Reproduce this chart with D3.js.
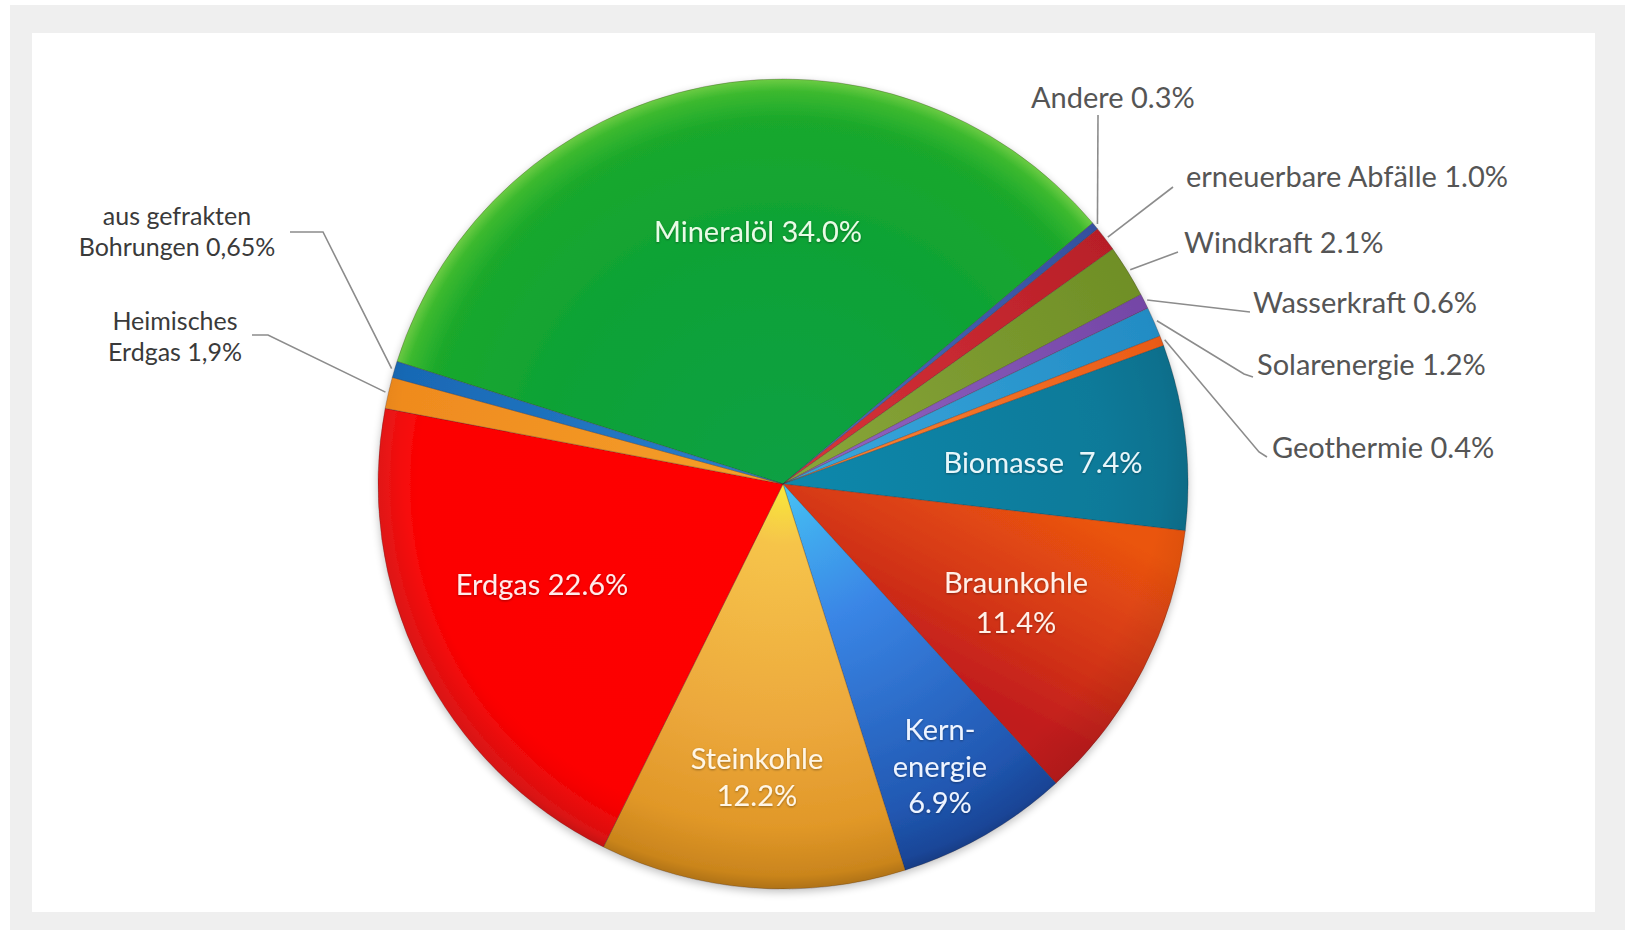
<!DOCTYPE html>
<html>
<head>
<meta charset="utf-8">
<script src="https://cdn.jsdelivr.net/npm/d3@7"></script>
<style>
  html, body { margin: 0; padding: 0; background: #ffffff; }
  svg { display: block; }
  text { font-family: Lato, "Open Sans", "DejaVu Sans", sans-serif; white-space: pre; }
</style>
</head>
<body>
<svg id="chart" width="1629" height="930"></svg>
<script>
// Primärenergieverbrauch nach Energieträgern (Anteile in %)
const categories = ["Mineralöl", "Andere", "erneuerbare Abfälle", "Windkraft", "Wasserkraft",
                    "Solarenergie", "Geothermie", "Biomasse", "Braunkohle", "Kernenergie",
                    "Steinkohle", "Erdgas"];
const shares = [34.0, 0.3, 1.0, 2.1, 0.6, 1.2, 0.4, 7.4, 11.4, 6.9, 12.2, 22.6];

// Anteil heimischer Förderung am Erdgas, davon aus gefrackten Bohrungen
const domesticGasShare = 1.9;
const frackedGasShare = 0.65;

// Slice colours (inner -> outer)
const sliceStyle = {
  "Mineralöl":           { stops: [[0, "#07a044"], [0.6, "#0ea236"], [0.9, "#1aa82c"], [0.97, "#3cb92e"], [1, "#6ccc44"]] },
  "Andere":              { stops: [[0, "#4f6cc0"], [1, "#34509e"]] },
  "erneuerbare Abfälle": { stops: [[0, "#d8343a"], [1, "#b81f28"]] },
  "Windkraft":           { stops: [[0, "#8aa63a"], [1, "#6f8f26"]] },
  "Wasserkraft":         { stops: [[0, "#9366c4"], [1, "#7446a6"]] },
  "Solarenergie":        { stops: [[0, "#3aa8de"], [1, "#238cc4"]] },
  "Geothermie":          { stops: [[0, "#f88a3a"], [1, "#ea5a16"]] },
  "Biomasse":            { stops: [[0, "#1088ac"], [0.8, "#0a7a99"], [1, "#096f8c"]] },
  "Braunkohle":          { linear: true, stops: [[0, "#ea5410"], [0.45, "#d83c14"], [1, "#c01a1e"]] },
  "Kernenergie":         { stops: [[0, "#46c2f4"], [0.35, "#3a86e6"], [1, "#1a4aa2"]] },
  "Steinkohle":          { stops: [[0, "#f8ea3a"], [0.15, "#f6c44a"], [0.6, "#eca83c"], [1, "#da8e1c"]] },
  "Erdgas":              { stops: [[0, "#ff0000"], [0.9, "#fc0202"], [1, "#ea1818"]] },
  "Erdgas heimisch":     { stops: [[0, "#f5a02a"], [1, "#ef8a1e"]] },
  "Erdgas gefrackt":     { stops: [[0, "#2a80cc"], [1, "#1868b4"]] }
};

const W = 1629, H = 930;
const cx = 783, cy = 484, R = 405;
const startAngle = -72.4 * Math.PI / 180;

// Build slice list: Erdgas is split into imported part, conventional domestic part and fracked part
const slices = [];
categories.forEach((c, i) => {
  if (c === "Erdgas") {
    slices.push({ key: "Erdgas", value: shares[i] - domesticGasShare });
    slices.push({ key: "Erdgas heimisch", value: domesticGasShare - frackedGasShare });
    slices.push({ key: "Erdgas gefrackt", value: frackedGasShare });
  } else {
    slices.push({ key: c, value: shares[i] });
  }
});

const svg = d3.select("#chart");
const defs = svg.append("defs");

// page frame
svg.append("rect").attr("x", 10).attr("y", 5).attr("width", W - 14).attr("height", H - 5).attr("fill", "#efefef");
svg.append("rect").attr("x", 32).attr("y", 33).attr("width", 1563).attr("height", 879).attr("fill", "#ffffff");

const pie = d3.pie().sort(null).value(d => d.value)
  .startAngle(startAngle).endAngle(startAngle + 2 * Math.PI);
const arcs = pie(slices);
const arc = d3.arc().innerRadius(0).outerRadius(R);

const polar = (a, r) => [Math.sin(a) * r, -Math.cos(a) * r];

// gradients
arcs.forEach((a, i) => {
  const st = sliceStyle[a.data.key];
  let g;
  if (st.linear) {
    const p0 = polar(a.startAngle, R * 0.75), p1 = polar(a.endAngle, R * 0.75);
    g = defs.append("linearGradient").attr("id", "g" + i)
      .attr("gradientUnits", "userSpaceOnUse")
      .attr("x1", p0[0]).attr("y1", p0[1]).attr("x2", p1[0]).attr("y2", p1[1]);
  } else {
    g = defs.append("radialGradient").attr("id", "g" + i)
      .attr("gradientUnits", "userSpaceOnUse")
      .attr("cx", 0).attr("cy", 0).attr("r", R);
  }
  st.stops.forEach(s => g.append("stop").attr("offset", s[0]).attr("stop-color", s[1]));
});

// rim shading, a little stronger towards the bottom
const rim = defs.append("radialGradient").attr("id", "rim")
  .attr("gradientUnits", "userSpaceOnUse").attr("cx", 0).attr("cy", -40).attr("r", R + 40);
rim.append("stop").attr("offset", 0.86).attr("stop-color", "#000").attr("stop-opacity", 0);
rim.append("stop").attr("offset", 0.97).attr("stop-color", "#000").attr("stop-opacity", 0.08);
rim.append("stop").attr("offset", 1).attr("stop-color", "#000").attr("stop-opacity", 0.2);

const shadow = defs.append("filter").attr("id", "shadow").attr("x", "-10%").attr("y", "-10%").attr("width", "120%").attr("height", "125%");
shadow.append("feGaussianBlur").attr("in", "SourceAlpha").attr("stdDeviation", 4);
shadow.append("feOffset").attr("dy", 3).attr("result", "b");
shadow.append("feComponentTransfer").append("feFuncA").attr("type", "linear").attr("slope", 0.25);
const merge = shadow.append("feMerge");
merge.append("feMergeNode");
merge.append("feMergeNode").attr("in", "SourceGraphic");

const textShadow = defs.append("filter").attr("id", "tshadow").attr("x", "-5%").attr("y", "-20%").attr("width", "110%").attr("height", "140%");
textShadow.append("feDropShadow").attr("dx", 0).attr("dy", 1).attr("stdDeviation", 1)
  .attr("flood-color", "#000").attr("flood-opacity", 0.35);

const gPie = svg.append("g").attr("transform", `translate(${cx},${cy})`);
const gSlices = gPie.append("g").attr("filter", "url(#shadow)");
gSlices.selectAll("path.slice").data(arcs).join("path")
  .attr("class", "slice")
  .attr("d", arc)
  .attr("fill", (d, i) => `url(#g${i})`)
  .attr("stroke", "rgba(60,40,40,0.35)")
  .attr("stroke-width", 0.8);

gPie.append("circle").attr("r", R).attr("fill", "url(#rim)").attr("pointer-events", "none");

// label texts
const fmt1 = v => v.toFixed(1) + "%";
const fmtDe = v => String(v).replace(".", ",") + "%";
const byKey = {};
arcs.forEach(a => byKey[a.data.key] = a);
const shareOf = k => shares[categories.indexOf(k)];

// inside labels (positions relative to pie centre)
const insideLayout = [
  { key: "Mineralöl",   lines: ["Mineralöl " + fmt1(shareOf("Mineralöl"))], x: -25, y: -242, fill: "#eafbe6" },
  { key: "Biomasse",    lines: ["Biomasse  " + fmt1(shareOf("Biomasse"))], x: 260, y: -11, fill: "#e8f6fa" },
  { key: "Erdgas",      lines: ["Erdgas " + fmt1(shareOf("Erdgas"))], x: -241, y: 111, fill: "#ffecec" },
  { key: "Braunkohle",  lines: ["Braunkohle", fmt1(shareOf("Braunkohle"))], x: 233, y: 109, fill: "#fff0e8" },
  { key: "Steinkohle",  lines: ["Steinkohle", fmt1(shareOf("Steinkohle"))], x: -26, y: 285, fill: "#fff6e6" },
  { key: "Kernenergie", lines: ["Kern-", "energie", fmt1(shareOf("Kernenergie"))], x: 157, y: 256, fill: "#eef4ff" }
];
const lineGap = { "Braunkohle": 40, "Steinkohle": 37, "Kernenergie": 36.5 };

insideLayout.forEach(l => {
  const t = gPie.append("text")
    .attr("x", l.x).attr("y", l.y)
    .attr("text-anchor", "middle")
    .attr("font-size", 29)
    .attr("fill", l.fill)
    .attr("filter", "url(#tshadow)");
  l.lines.forEach((s, j) => t.append("tspan").attr("x", l.x).attr("dy", j === 0 ? 0 : (lineGap[l.key] || 36)).text(s));
});

// outside labels with leader lines
const outsideLayout = [
  { key: "Andere",              text: "Andere " + fmt1(shareOf("Andere")),                            tx: 1031, ty: 108, anchor: "start", size: 29, via: [[1098, 115]] },
  { key: "erneuerbare Abfälle", text: "erneuerbare Abfälle " + fmt1(shareOf("erneuerbare Abfälle")), tx: 1186, ty: 187, anchor: "start", size: 29, via: [[1173, 187]] },
  { key: "Windkraft",           text: "Windkraft " + fmt1(shareOf("Windkraft")),                      tx: 1184, ty: 253, anchor: "start", size: 29, via: [[1178, 252]] },
  { key: "Wasserkraft",         text: "Wasserkraft " + fmt1(shareOf("Wasserkraft")),                  tx: 1253, ty: 313, anchor: "start", size: 29, via: [[1250, 312]] },
  { key: "Solarenergie",        text: "Solarenergie " + fmt1(shareOf("Solarenergie")),                tx: 1257, ty: 375, anchor: "start", size: 29, via: [[1244, 374], [1253, 377]] },
  { key: "Geothermie",          text: "Geothermie " + fmt1(shareOf("Geothermie")),                    tx: 1272, ty: 458, anchor: "start", size: 29, via: [[1259, 452], [1267, 457]] },
  { key: "Erdgas gefrackt",     lines: ["aus gefrakten", "Bohrungen " + fmtDe(frackedGasShare)],     tx: 177, ty: 225, anchor: "middle", size: 25, gap: 31, via: [[323, 232], [290, 232]], color: "#3a3a3a" },
  { key: "Erdgas heimisch",     lines: ["Heimisches", "Erdgas " + fmtDe(domesticGasShare)],          tx: 175, ty: 330, anchor: "middle", size: 25, gap: 31, via: [[268, 335], [252, 335]], color: "#3a3a3a" }
];

const gOut = svg.append("g");
outsideLayout.forEach(l => {
  const a = byKey[l.key];
  const mid = (a.startAngle + a.endAngle) / 2;
  const p = polar(mid, R + 3);
  const pts = [[cx + p[0], cy + p[1]]].concat(l.via);
  gOut.append("path")
    .attr("d", d3.line()(pts))
    .attr("fill", "none")
    .attr("stroke", "#8c8c8c")
    .attr("stroke-width", 1.6);
  const t = gOut.append("text")
    .attr("x", l.tx).attr("y", l.ty)
    .attr("text-anchor", l.anchor)
    .attr("font-size", l.size)
    .attr("fill", l.color || "#555555");
  const lines = l.lines || [l.text];
  lines.forEach((s, j) => t.append("tspan").attr("x", l.tx).attr("dy", j === 0 ? 0 : l.gap).text(s));
});
</script>
</body>
</html>
